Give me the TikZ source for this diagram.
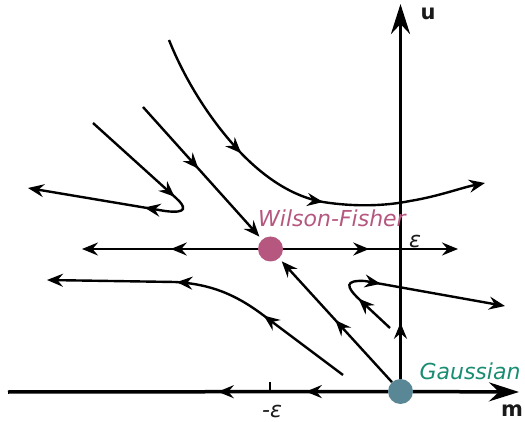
\documentclass[tikz,border=0pt]{standalone}
\usepackage{fontspec}
\setmainfont{DejaVu Sans}
\usetikzlibrary{
  arrows.meta,
  backgrounds,
  decorations.markings,
  positioning
}
\definecolor{wfpink}{HTML}{B5577F}
\definecolor{gaussblue}{HTML}{5A8796}
\definecolor{gaussgreen}{HTML}{1A8C72}
\definecolor{ink}{HTML}{1A1A1A}
\tikzset{
  axis/.style={
    line width=3.5pt,
    draw=black,
    -{Stealth[length=30pt,width=19pt,inset=10pt]}
  },
  axisline/.style={line width=3.5pt, draw=black},
  flow/.style={line width=2.4pt, -{Stealth[length=16pt,width=13pt,inset=5.5pt]}},
  arrowat/.style={
    postaction={decorate, decoration={markings,
      mark=at position #1 with {\arrow{Stealth[length=16pt,width=13pt,inset=5.5pt]}}}}
  },
  fixedpt/.style={circle, inner sep=0pt, minimum size=25pt},
  ptlabel/.style={font=\fontsize{22}{26}\selectfont\itshape, inner sep=0pt},
  axislabel/.style={font=\fontsize{21}{24}\selectfont\bfseries, text=ink, inner sep=0pt}
}

\begin{document}
\begin{tikzpicture}[x=1pt, y=-1pt]
  \useasboundingbox (0,0) rectangle (525,422);

  % fixed points
  \node[fixedpt, fill=gaussblue] (gauss) at (400.5,391.5) {};
  \node[fixedpt, fill=wfpink] (wf) at (270.5,249) {};

  \coordinate (mstart) at (8,392);
  \coordinate (mend) at (519,392);
  \coordinate (utop) at (400.5,4);
  \coordinate (tick) at (270,392);

  \begin{scope}[on background layer]
    % axes
    \draw[axis] (gauss) -- (mend);
    \draw[axisline, arrowat=82pt, arrowat=170pt] (gauss) -- (mstart);
    \draw[axis, arrowat=56pt] (gauss) -- (utop);
    \draw[line width=2.8pt] (tick) -- ++(0,-10);

    % flow lines
    \draw[flow, arrowat=87pt] (wf) -- (82,249);
    \draw[flow, arrowat=86pt] (wf) -- (458,249);
    \draw[flow, arrowat=84pt, shorten >=4pt] (gauss) -- (wf);
    \draw[flow, arrowat=83pt, shorten >=4pt] (143,107) -- (wf);
    \draw[flow, arrowat=135pt, arrowat=232pt] (169,40)
      .. controls (185,80) and (210,120) .. (240,152)
      .. controls (262,175) and (290,196) .. (323,202)
      .. controls (355,207) and (385,206) .. (410,201)
      .. controls (440,196) and (460,188) .. (485,183);
    \draw[flow, arrowat=110pt, arrowat=165pt] (93,123) -- (176,198)
      .. controls (186,207) and (188,214) .. (165,211) -- (28,188);
    \draw[flow, arrowat=99pt, arrowat=194pt] (343,375) -- (263,315)
      .. controls (235,294) and (210,284) .. (175,282) -- (47,280);
    \draw[flow, arrowat=43pt, arrowat=93pt] (390,328) -- (360,300)
      .. controls (345,286) and (345,280) .. (365,281) -- (505,306);
  \end{scope}

  % labels
  \node[axislabel] (ulabel) at (428,14) {u};
  \node[axislabel] (mlabel) at (512,411) {m};
  \node[ptlabel, text=gaussgreen] (gausslabel) at (470,371) {Gaussian};
  \node[ptlabel, text=wfpink] (wflabel) at (332,218) {Wilson-Fisher};
  \node[ptlabel, text=ink] (eps) at (415,241) {ε};
  \node[ptlabel, text=ink] (negeps) at (272,411) {-ε};
\end{tikzpicture}
\end{document}
